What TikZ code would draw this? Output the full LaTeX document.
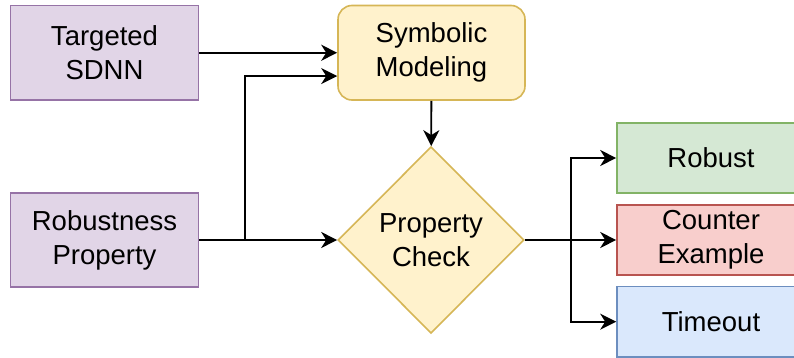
\documentclass[tikz,border=0pt]{standalone}
\usepackage{fontspec}
\setmainfont{Liberation Sans}
\usetikzlibrary{arrows.meta,shapes.geometric}
\definecolor{pfill}{HTML}{E1D5E7}\definecolor{pdraw}{HTML}{9673A6}
\definecolor{yfill}{HTML}{FFF2CC}\definecolor{ydraw}{HTML}{D6B656}
\definecolor{gfill}{HTML}{D5E8D4}\definecolor{gdraw}{HTML}{82B366}
\definecolor{rfill}{HTML}{F8CECC}\definecolor{rdraw}{HTML}{B85450}
\definecolor{bfill}{HTML}{DAE8FC}\definecolor{bdraw}{HTML}{6C8EBF}
\tikzset{
  base/.style={inner sep=0pt, align=center, line width=1.6pt, font=\fontsize{27.5}{34}\selectfont},
  purplebox/.style={base, draw=pdraw, fill=pfill, minimum width=188pt, minimum height=94.5pt},
  yellowbox/.style={base, draw=ydraw, fill=yfill, rounded corners=14pt, minimum width=187pt, minimum height=94.5pt},
  diam/.style={base, diamond, draw=ydraw, fill=yfill, minimum width=186pt, minimum height=186.6pt},
  outbox/.style={base, minimum width=188pt, minimum height=70.5pt},
  conn/.style={line width=1.8pt, -{Stealth[length=16pt,width=16pt,inset=5pt]}},
  plain/.style={line width=1.8pt}
}
\begin{document}
\begin{tikzpicture}[x=1pt,y=-1pt]
\clip (0,0) rectangle (794,358);
\fill[white] (0,0) rectangle (794,358);
\node[purplebox] (tsdnn) at (104.5,52.75) {Targeted\\SDNN};
\node[purplebox] (rob) at (104.5,240) {Robustness\\Property};
\node[yellowbox] (symb) at (431.5,52.75) {Symbolic\\Modeling};
\node[diam] (diam) at (431,240) {Property\\Check};
\node[outbox, draw=gdraw, fill=gfill] (robust) at (711,158) {Robust};
\node[outbox, draw=rdraw, fill=rfill] (ce) at (711,240) {Counter\\Example};
\node[outbox, draw=bdraw, fill=bfill] (tout) at (711,321.7) {Timeout};
\coordinate (j) at (245,240);
\coordinate (s) at (571,240);
\draw[conn] (tsdnn) -- (symb);
\draw[conn] (rob) -- (diam);
\draw[conn] (j) |- ([yshift=-23.3pt]symb.west);
\draw[conn] (symb) -- (diam);
\draw[conn] (diam) -- (ce);
\draw[conn] (s) |- (robust.west);
\draw[conn] (s) |- (tout.west);
\end{tikzpicture}
\end{document}
